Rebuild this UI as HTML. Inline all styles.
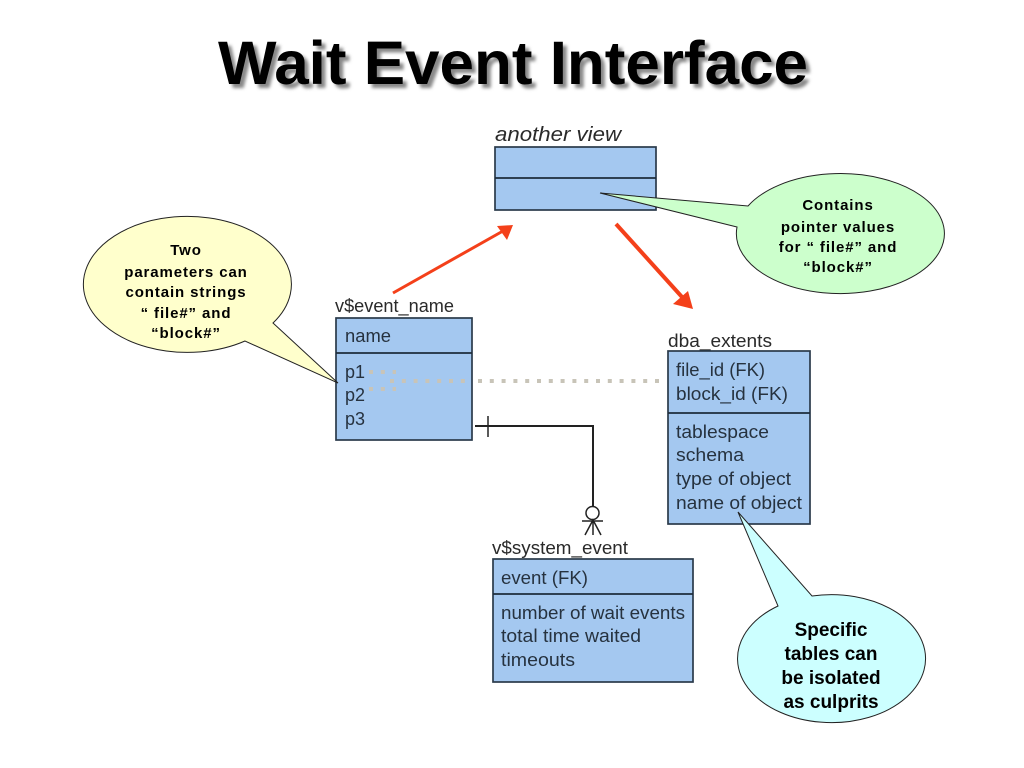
<!DOCTYPE html>
<html lang="en">
<head>
<meta charset="utf-8">
<title>Wait Event Interface</title>
<style>
html,body{margin:0;padding:0;background:#fff;width:1024px;height:768px;overflow:hidden}
svg{display:block}
text{font-family:"Liberation Sans",sans-serif}
.t{font-size:18px;fill:#26323f}
.l{font-size:18px;fill:#2a2a2a}
.c{font-size:15px;font-weight:bold;fill:#000;text-anchor:middle;letter-spacing:.9px}
.d{font-size:19px;font-weight:bold;fill:#000;text-anchor:middle}
.box{fill:#a4c8f0;stroke:#2a3a4a;stroke-width:1.7}
.div{stroke:#1e2c3c;stroke-width:1.8}
.dot{stroke:#c8c4b8;stroke-width:4;stroke-dasharray:4 7.8;fill:none}
.cl{stroke:#222;stroke-width:1}
</style>
</head>
<body>
<svg width="1024" height="768" viewBox="0 0 1024 768" xmlns="http://www.w3.org/2000/svg">
<defs><filter id="b" x="-5%" y="-20%" width="110%" height="140%"><feGaussianBlur stdDeviation="1.6"/></filter></defs>
<rect width="1024" height="768" fill="#fff"/>

<!-- Title -->
<text x="222" y="88" font-size="61" font-weight="bold" fill="#888" filter="url(#b)" textLength="590" lengthAdjust="spacingAndGlyphs">Wait Event Interface</text>
<text x="218" y="84" font-size="61" font-weight="bold" fill="#000" textLength="590" lengthAdjust="spacingAndGlyphs">Wait Event Interface</text>

<!-- another view -->
<text x="495" y="141" font-size="20" fill="#2a2a2a" font-style="italic" textLength="126" lengthAdjust="spacingAndGlyphs">another view</text>
<rect class="box" x="495" y="147" width="161" height="63"/>
<line class="div" x1="495" y1="178" x2="656" y2="178"/>

<!-- v$event_name -->
<text x="335" y="312" class="l" textLength="119" lengthAdjust="spacingAndGlyphs">v$event_name</text>
<rect class="box" x="336" y="318" width="136" height="122"/>
<line class="div" x1="336" y1="353" x2="472" y2="353"/>
<text x="345" y="342" class="t" textLength="46" lengthAdjust="spacingAndGlyphs">name</text>
<text x="345" y="378" class="t">p1</text>
<text x="345" y="401" class="t">p2</text>
<text x="345" y="425" class="t">p3</text>

<!-- dba_extents -->
<text x="668" y="347" class="l" textLength="104" lengthAdjust="spacingAndGlyphs">dba_extents</text>
<rect class="box" x="668" y="351" width="142" height="173"/>
<line class="div" x1="668" y1="413" x2="810" y2="413"/>
<text x="676" y="376" class="t" textLength="89" lengthAdjust="spacingAndGlyphs">file_id (FK)</text>
<text x="676" y="400" class="t" textLength="112" lengthAdjust="spacingAndGlyphs">block_id (FK)</text>
<text x="676" y="438" class="t" textLength="93" lengthAdjust="spacingAndGlyphs">tablespace</text>
<text x="676" y="461" class="t" textLength="68" lengthAdjust="spacingAndGlyphs">schema</text>
<text x="676" y="485" class="t" textLength="115" lengthAdjust="spacingAndGlyphs">type of object</text>
<text x="676" y="509" class="t" textLength="126" lengthAdjust="spacingAndGlyphs">name of object</text>

<!-- v$system_event -->
<text x="492" y="554" class="l" textLength="136" lengthAdjust="spacingAndGlyphs">v$system_event</text>
<rect class="box" x="493" y="559" width="200" height="123"/>
<line class="div" x1="493" y1="594" x2="693" y2="594"/>
<text x="501" y="584" class="t" textLength="87" lengthAdjust="spacingAndGlyphs">event (FK)</text>
<text x="501" y="619" class="t" textLength="184" lengthAdjust="spacingAndGlyphs">number of wait events</text>
<text x="501" y="642" class="t" textLength="140" lengthAdjust="spacingAndGlyphs">total time waited</text>
<text x="501" y="666" class="t" textLength="74" lengthAdjust="spacingAndGlyphs">timeouts</text>

<!-- dotted connector -->
<line class="dot" x1="369" y1="372" x2="396" y2="372"/>
<line class="dot" x1="369" y1="389" x2="396" y2="389"/>
<line class="dot" x1="390" y1="381" x2="468" y2="381"/>
<line class="dot" x1="478" y1="381" x2="664" y2="381"/>

<!-- relationship -->
<path d="M475 426H593V510" fill="none" stroke="#222" stroke-width="2"/>
<line x1="488" y1="416" x2="488" y2="437" stroke="#222" stroke-width="1.5"/>
<circle cx="592.500" cy="513" r="6.500" fill="#fff" stroke="#222" stroke-width="1.5"/>
<line x1="582" y1="521" x2="603" y2="521" stroke="#222" stroke-width="1.5"/>
<path d="M585 535L593 520L601 535M593 520V535" fill="none" stroke="#222" stroke-width="1.5"/>

<!-- red arrows -->
<line x1="393" y1="293" x2="503" y2="231" stroke="#f4401a" stroke-width="3"/>
<polygon points="513,225 497,226 507,240" fill="#f4401a"/>
<line x1="616" y1="224" x2="682" y2="297" stroke="#f4401a" stroke-width="4"/>
<polygon points="693,309 673,304 688,291" fill="#f4401a"/>

<!-- yellow callout -->
<path class="cl" fill="#ffffcc" d="M273 323A104 68 0 1 0 245 341L338 383Z"/>
<text class="c" x="186" y="255">Two</text>
<text class="c" x="186" y="277">parameters can</text>
<text class="c" x="186" y="297">contain strings</text>
<text class="c" x="186" y="318">“ file#” and</text>
<text class="c" x="186" y="338">“block#”</text>

<!-- green callout -->
<path class="cl" fill="#ccffcc" d="M748 206A104 60 0 1 1 737 227L600 193Z"/>
<text class="c" x="838" y="210">Contains</text>
<text class="c" x="838" y="232">pointer values</text>
<text class="c" x="838" y="252">for “ file#” and</text>
<text class="c" x="838" y="272">“block#”</text>

<!-- cyan callout -->
<path class="cl" fill="#ccffff" d="M812 596A94 64 0 1 1 778 606L738 512Z"/>
<text class="d" x="831" y="636">Specific</text>
<text class="d" x="831" y="660">tables can</text>
<text class="d" x="831" y="684">be isolated</text>
<text class="d" x="831" y="708">as culprits</text>
</svg>
</body>
</html>
